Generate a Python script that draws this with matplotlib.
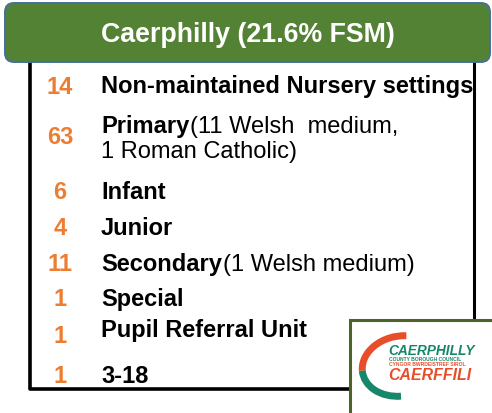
import matplotlib
matplotlib.use("Agg")
import matplotlib.pyplot as plt
from matplotlib.patches import FancyBboxPatch, Rectangle, Arc

# data
title = "Caerphilly (21.6% FSM)"
counts = ["14", "63", "6", "4", "11", "1", "1", "1"]
labels = ["Non-maintained Nursery settings", "Primary", "Infant", "Junior",
          "Secondary", "Special", "Pupil Referral Unit", "3-18"]
notes = ["", "(11 Welsh  medium,\n1 Roman Catholic)", "", "", "(1 Welsh medium)", "", "", ""]

# row positions in pixels (top-down)
label_y = [87, 127, 193, 229, 265, 300, 331, 377]
count_y = [87, 138, 193, 229, 265, 300, 337, 377]

plt.rcParams["font.family"] = ["Liberation Sans", "DejaVu Sans"]

fig = plt.figure(figsize=(4.92, 4.14), dpi=100)
ax = fig.add_axes([0, 0, 1, 1])
ax.set_xlim(0, 492)
ax.set_ylim(414, 0)
ax.axis("off")

orange = "#ED7D31"
fs = 17

# black frame (open at bottom right where the logo sits)
ax.plot([30, 30, 350], [60, 390, 390], color="black", lw=2.6, solid_capstyle="butt")
ax.plot([474, 474], [60, 321], color="black", lw=2.2, solid_capstyle="butt")

# header
hdr = FancyBboxPatch((5, 4), 485, 59, boxstyle="round,pad=0,rounding_size=9",
                     fc="#548235", ec="#41719C", lw=1.4, zorder=3)
ax.add_patch(hdr)
ax.text(248, 35, title, color="white", fontsize=19.3, fontweight="bold",
        ha="center", va="center", zorder=4)

fig.canvas.draw()
r = fig.canvas.get_renderer()
inv = ax.transData.inverted()

for c, cy, lab, ly, note in zip(counts, count_y, labels, label_y, notes):
    ax.text(60, cy, c, color=orange, fontsize=fs, fontweight="bold",
            ha="center", va="center")
    t = ax.text(101, ly, lab, color="black", fontsize=fs, fontweight="bold",
                ha="left", va="center", zorder=2)
    if note:
        bb = t.get_window_extent(renderer=r)
        x_end = inv.transform((bb.x1, bb.y0))[0]
        first, *rest = note.split("\n")
        ax.text(x_end + 1, ly, first, color="black", fontsize=fs,
                ha="left", va="center")
        for k, line in enumerate(rest):
            ax.text(101, ly + 25 * (k + 1), line, color="black", fontsize=fs,
                    ha="left", va="center")

# logo box
ax.add_patch(Rectangle((349.5, 320.5), 150, 100, fc="white", ec="#4F6228", lw=2.2,
                       zorder=5))
teal = "#17876B"
red = "#E94E2A"
ax.add_patch(Arc((401, 367), 78, 60, angle=-10, theta1=183, theta2=290,
                 color=red, lw=5, zorder=6))
ax.add_patch(Arc((401, 367), 78, 60, angle=-10, theta1=100, theta2=183,
                 color=teal, lw=5, zorder=6))
ax.text(388, 351, "CAERPHILLY", color=teal, fontsize=9.9, fontweight="bold",
        fontstyle="italic", ha="left", va="center", zorder=7)
ax.text(389, 360, "COUNTY BOROUGH COUNCIL", color=teal, fontsize=3.6,
        fontweight="bold", ha="left", va="center", zorder=7)
ax.text(389, 365, "CYNGOR BWRDEISTREF SIROL", color=red, fontsize=3.6,
        fontweight="bold", ha="left", va="center", zorder=7)
ax.text(388, 376, "CAERFFILI", color=red, fontsize=11.4, fontweight="bold",
        fontstyle="italic", ha="left", va="center", zorder=7)

fig.savefig("out.png", dpi=100)
